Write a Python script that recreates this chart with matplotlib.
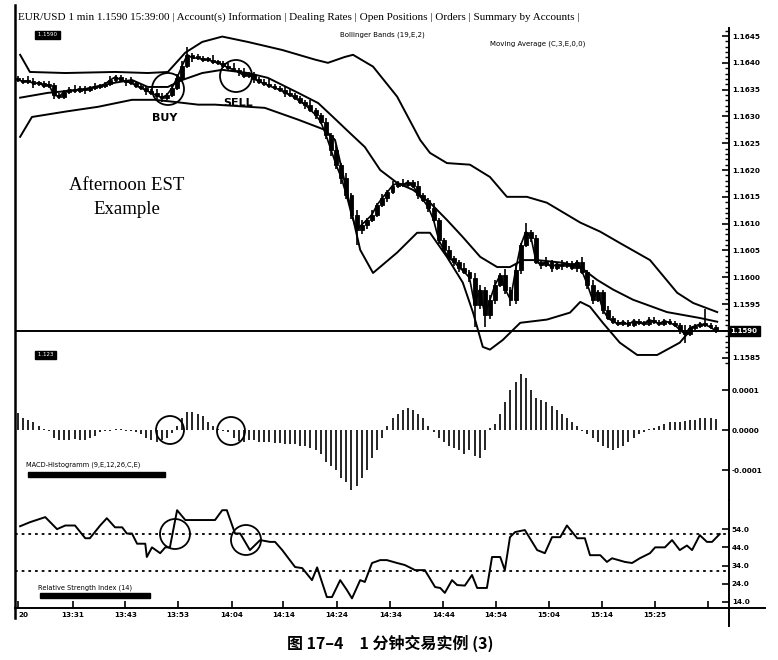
import numpy as np
import matplotlib.pyplot as plt
from matplotlib.patches import Rectangle, Ellipse
from matplotlib.lines import Line2D
from matplotlib.ticker import MultipleLocator

# ---- data ----
# 1-minute closes, 13:20 .. 15:39
closes = [
    1.16368, 1.16365, 1.16367, 1.16361, 1.16363, 1.16357, 1.16359, 1.16340, 1.16337, 1.16346,
    1.16350, 1.16348, 1.16352, 1.16350, 1.16353, 1.16355, 1.16357, 1.16361, 1.16368, 1.16374,
    1.16368, 1.16365, 1.16363, 1.16357, 1.16353, 1.16348, 1.16344, 1.16339, 1.16335, 1.16340,
    1.16353, 1.16372, 1.16395, 1.16415, 1.16409, 1.16409, 1.16406, 1.16406, 1.16402, 1.16400,
    1.16395, 1.16391, 1.16387, 1.16383, 1.16376, 1.16378, 1.16370, 1.16365, 1.16361, 1.16357,
    1.16353, 1.16350, 1.16344, 1.16340, 1.16335, 1.16327, 1.16322, 1.16312, 1.16303, 1.16290,
    1.16266, 1.16238, 1.16210, 1.16186, 1.16154, 1.16117, 1.16088, 1.16098, 1.16107, 1.16117,
    1.16135, 1.16148, 1.16159, 1.16171, 1.16176, 1.16172, 1.16178, 1.16171, 1.16154, 1.16144,
    1.16130, 1.16107, 1.16070, 1.16051, 1.16036, 1.16029, 1.16018, 1.16010, 1.15999, 1.15949,
    1.15977, 1.15930, 1.15958, 1.15986, 1.16004, 1.15977, 1.15958, 1.16014, 1.16060, 1.16085,
    1.16074, 1.16029, 1.16023, 1.16029, 1.16018, 1.16025, 1.16021, 1.16027, 1.16018, 1.16029,
    1.16010, 1.15986, 1.15958, 1.15973, 1.15939, 1.15924, 1.15917, 1.15913, 1.15917, 1.15911,
    1.15919, 1.15915, 1.15913, 1.15921, 1.15917, 1.15913, 1.15919, 1.15915, 1.15911, 1.15902,
    1.15894, 1.15906, 1.15909, 1.15913, 1.15911, 1.15907, 1.15900,
]
first_open = 1.16372

# wicks beyond the body, in pipettes (0.00001)
wick_hi = [
    4, 4, 8, 4, 4, 4, 8, 4, 4, 4,   4, 8, 4, 4, 4, 8, 4, 4, 8, 4,
    4, 4, 8, 4, 4, 4, 4, 8, 4, 4,   8, 8, 8, 14, 4, 8, 4, 4, 8, 4,
    4, 4, 8, 4, 8, 4, 4, 4, 4, 8,   4, 4, 4, 8, 4, 4, 4, 8, 4, 4,
    8, 4, 8, 4, 8, 4, 8, 8, 4, 8,   4, 8, 4, 8, 4, 8, 4, 4, 8, 4,
    4, 8, 4, 4, 8, 4, 4, 8, 4, 8,   8, 4, 8, 8, 4, 12, 4, 8, 4, 16,
    4, 4, 4, 8, 4, 4, 8, 4, 4, 4,   8, 4, 8, 4, 4, 8, 4, 4, 4, 4,
    4, 4, 4, 4, 4, 4, 4, 4, 4, 4,   8, 4, 4, 4, 28, 4, 4,
]
wick_lo = [
    4, 4, 4, 8, 4, 4, 4, 8, 4, 4,   4, 4, 4, 8, 4, 4, 4, 4, 4, 4,
    4, 8, 4, 4, 4, 8, 4, 8, 8, 4,   4, 4, 4, 4, 8, 4, 4, 4, 4, 4,
    4, 4, 4, 8, 4, 4, 8, 4, 4, 4,   4, 4, 8, 4, 4, 4, 8, 4, 8, 4,
    8, 12, 8, 12, 8, 8, 28, 8, 8, 4, 4, 4, 8, 4, 4, 4, 4, 4, 8, 4,
    8, 4, 8, 4, 4, 8, 8, 4, 8, 42,  8, 23, 8, 8, 4, 8, 12, 8, 8, 4,
    8, 4, 8, 4, 8, 4, 8, 4, 4, 8,   4, 8, 8, 4, 8, 4, 4, 4, 4, 4,
    4, 4, 4, 4, 4, 4, 4, 4, 4, 8,   16, 4, 4, 4, 4, 4, 4,
]

# Bollinger bands (19,E,2), sampled along the bar index
bb_upper_x = [0.4, 2.3, 9.2, 18.9, 25.3, 29.2, 32.6, 35.9, 39.8, 44.8, 51.5, 57.9, 60.4,
              63.7, 65.3, 69.2, 73.9, 78.4, 80.3, 83.6, 88.1, 92, 95.3, 99.2, 103.1,
              109.6, 113.5, 117.3, 123.2, 128.5, 131.6, 136.3]
bb_upper = [1.16415, 1.16383, 1.16381, 1.16383, 1.16381, 1.16383, 1.16419, 1.16439,
            1.16449, 1.16439, 1.16424, 1.16406, 1.16400, 1.16411, 1.16415, 1.16393,
            1.16337, 1.16256, 1.16232, 1.16213, 1.16210, 1.16187, 1.16150, 1.16150,
            1.16139, 1.16102, 1.16085, 1.16064, 1.16032, 1.15971, 1.15952, 1.15935]
bb_mid_x = [0.4, 5.8, 12.5, 18.9, 22.2, 25.3, 29.2, 32, 35.9, 39.8, 44.8, 48.7, 54.6,
            58.5, 61.4, 64.7, 67.6, 70.6, 73.9, 77, 80.3, 83.6, 86.7, 90.1, 93.4, 95.9,
            98.4, 101.2, 106.2, 109.6, 112.9, 116, 119.9, 126.5, 132.9, 136.3]
bb_mid = [1.16335, 1.16344, 1.16350, 1.16363, 1.16368, 1.16355, 1.16355, 1.16368,
          1.16381, 1.16387, 1.16381, 1.16372, 1.16344, 1.16325, 1.16299, 1.16269,
          1.16243, 1.16200, 1.16176, 1.16163, 1.16139, 1.16107, 1.16075, 1.16038,
          1.16019, 1.16019, 1.16032, 1.16032, 1.16027, 1.16019, 1.15995, 1.15977,
          1.15958, 1.15935, 1.15924, 1.15917]
bb_lower_x = [0.4, 2.7, 9.2, 15.6, 22.2, 26.7, 30.6, 35.1, 38.4, 48.1, 54.6, 59.8, 61.8,
              64.7, 66.7, 69.2, 73.9, 77.8, 80.3, 83.6, 86.7, 88.7, 90.6, 92, 94.5,
              97.9, 103.1, 107.6, 109.6, 111.5, 114, 117.3, 120.7, 124.6, 129, 131.6]
bb_lower = [1.16262, 1.16299, 1.16309, 1.16318, 1.16331, 1.16331, 1.16327, 1.16322,
            1.16322, 1.16316, 1.16294, 1.16275, 1.16256, 1.16135, 1.16051, 1.16008,
            1.16046, 1.16083, 1.16083, 1.16038, 1.15990, 1.15934, 1.15870, 1.15865,
            1.15883, 1.15915, 1.15921, 1.15934, 1.15954, 1.15945, 1.15915, 1.15878,
            1.15855, 1.15855, 1.15878, 1.15907]

# MACD histogram, units of 0.00001
macd_hist = [
    4.3, 3, 2.5, 2, 1, 0.3, -0.3, -2, -2.5, -2.5,
    -2.5, -2.2, -2.5, -2.5, -2, -1.5, -0.5, -0.3, -0.2, 0.3,
    0.3, -0.3, -0.2, -0.4, -1, -2, -2.5, -3, -2.5, -2,
    -0.8, 1, 3, 4.5, 4.5, 4, 3.5, 2, 1, 0.3,
    -0.3, -0.5, -2, -2.8, -3, -2.5, -2.5, -3, -3, -3,
    -3.3, -3.3, -3.5, -3.5, -3.5, -4, -4, -4.5, -5, -6,
    -8, -9, -10, -12, -13, -15, -14, -12, -10, -7,
    -5, -2, 1, 3, 4, 5, 5.5, 5, 4, 3,
    1, -0.5, -2, -3, -4, -4.5, -5, -6, -5, -6.5,
    -7, -5, 0.5, 1.5, 4, 7, 10, 12, 14, 13,
    10, 8, 7.5, 7, 6, 5, 4, 3, 2, 1,
    -0.3, -1, -2, -3, -4, -4.5, -5, -4.5, -4, -3,
    -2, -1, -0.5, 0.3, 0.5, 1, 1.5, 2, 2, 2,
    2.3, 2.5, 2.5, 3, 3, 3, 2.8,
]

# RSI (14)
rsi_x = [0.4, 2.3, 5.3, 7.6, 9.2, 11.1, 13.1, 14, 16, 17.3, 18.9, 20.3, 21.2, 22.2, 23.2,
         24.8, 25.1, 26.1, 27.7, 28.7, 29.6, 31, 32.6, 38.4, 39.8, 40.7, 42.3, 43.3,
         45.2, 47.2, 49.1, 50.1, 51.5, 54, 55.4, 57.3, 58.3, 60.2, 61.2, 62.8, 64.1,
         65.1, 66.7, 67.6, 69, 70.6, 71.9, 73.9, 75.4, 77.4, 79.3, 81.3, 82.3, 83.2,
         84.6, 85.6, 87.1, 88.5, 89.5, 91.4, 92.4, 94, 94.9, 95.9, 96.9, 98.8, 101.2,
         102.7, 104.1, 105.7, 107, 109, 110.5, 111.5, 113.5, 114.8, 115.8, 118.3,
         119.7, 121.2, 123.2, 124.2, 126.1, 127.5, 129, 130.4, 131.4, 132.9, 134.3,
         135.3, 136.8]
rsi = [55.6, 57.8, 60.6, 54, 56, 56, 49, 49, 56, 60, 55, 55, 51.6, 51.6, 46,
       46, 38.7, 44, 40.8, 44, 44, 64.4, 59, 59, 64.4, 64.4, 51.6, 51.6,
       42.5, 48, 47, 47, 42.5, 33.2, 32.6, 26, 33, 16.7, 16.7, 26, 20.6,
       16, 26, 25, 35.4, 37, 37, 35.4, 34.3, 31.5, 31.5, 22.2, 21.7, 19,
       26, 23.3, 23, 28.8, 21.7, 21.7, 38.7, 38.7, 31.5, 49.6, 52.4, 53.5, 42.5,
       40.8, 49.6, 49.6, 56, 49, 49, 39.7, 39.7, 36, 38, 36,
       35.4, 38, 40.8, 44, 44, 48, 42.5, 45, 42.5, 50.7, 47,
       47, 51.3]
rsi_levels = [51.3, 31.0]

time_ticks = [0, 10.7, 20.9, 31.2, 41.7, 51.7, 62.2, 72.6, 82.9, 93.2, 103.5, 113.8, 124.2, 134.5]
time_labels = ['20', '13:31', '13:43', '13:53', '14:04', '14:14', '14:24', '14:34',
               '14:44', '14:54', '15:04', '15:14', '15:25', '']
last_price = 1.1590

# ---- layout helpers (pixel -> figure fraction) ----
W, H = 778, 660
def fx(px): return px / W
def fy(py): return 1 - py / H

fig = plt.figure(figsize=(W / 100, H / 100), dpi=100)
fig.patch.set_facecolor('white')
L, R = 15, 729
XLIM = (-0.6, 138.6)

ax_p = fig.add_axes([fx(L), fy(363), fx(R) - fx(L), fy(28) - fy(363)])
ax_m = fig.add_axes([fx(L), fy(500), fx(R) - fx(L), fy(363) - fy(500)])
ax_r = fig.add_axes([fx(L), fy(608), fx(R) - fx(L), fy(500) - fy(608)])

for ax in (ax_p, ax_m, ax_r):
    ax.set_xlim(*XLIM)
    ax.patch.set_alpha(0)
    for s in ('top', 'left', 'bottom'):
        ax.spines[s].set_visible(False)
    ax.spines['right'].set_linewidth(1.4)
    ax.yaxis.tick_right()
    ax.tick_params(axis='y', direction='in', length=5, width=1.2, labelsize=5.2, pad=2)
    ax.tick_params(axis='x', bottom=False, labelbottom=False)

# ---- price panel ----
x = np.arange(len(closes))
c = np.array(closes)
o = np.r_[first_open, c[:-1]]
hi = np.maximum(o, c) + np.array(wick_hi) * 1e-5
lo = np.minimum(o, c) - np.array(wick_lo) * 1e-5

ax_p.vlines(x, lo, hi, color='black', lw=1.2)
for xi, oi, ci in zip(x, o, c):
    bottom = min(oi, ci)
    height = max(abs(ci - oi), 0.00003)
    ax_p.add_patch(Rectangle((xi - 0.38, bottom), 0.76, height, facecolor='black',
                             edgecolor='black', lw=0.6))
ax_p.plot(x, c, color='black', lw=1.2)
ax_p.plot(bb_upper_x, bb_upper, color='black', lw=1.4)
ax_p.plot(bb_mid_x, bb_mid, color='black', lw=1.4)
ax_p.plot(bb_lower_x, bb_lower, color='black', lw=1.4)
ax_p.axhline(last_price, color='black', lw=1.4)

ax_p.set_ylim(1.15840, 1.16465)
price_ticks = np.arange(1.1585, 1.16451, 0.0005)
ax_p.set_yticks(price_ticks)
# the tick at the last price carries the black price box instead of a label
ax_p.set_yticklabels(['' if abs(v - last_price) < 1e-7 else '%.4f' % v for v in price_ticks],
                     fontweight='bold')
ax_p.yaxis.set_minor_locator(MultipleLocator(0.0001))
ax_p.tick_params(axis='y', which='minor', direction='in', length=3, width=1)

# ---- MACD panel ----
ax_m.vlines(x, 0, np.array(macd_hist) * 1e-5, color='black', lw=1.2)
ax_m.set_ylim(-0.000175, 0.0001675)
ax_m.set_yticks([-0.0001, 0.0, 0.0001])
ax_m.set_yticklabels(['-0.0001', '0.0000', '0.0001'], fontweight='bold')

# ---- RSI panel ----
ax_r.plot(rsi_x, rsi, color='black', lw=1.4)
for lev in rsi_levels:
    ax_r.axhline(lev, color='black', lw=1.3, ls=(0, (1.5, 2.2)))
ax_r.set_ylim(10.7, 70)
ax_r.set_yticks([14, 24, 34, 44, 54])
ax_r.set_yticklabels(['14.0', '24.0', '34.0', '44.0', '54.0'], fontweight='bold')
ax_r.spines['bottom'].set_visible(True)
ax_r.spines['bottom'].set_linewidth(1.4)
ax_r.set_xticks(time_ticks)
ax_r.set_xticklabels(time_labels, fontweight='bold')
ax_r.tick_params(axis='x', bottom=True, labelbottom=True, direction='in', length=5,
                 width=1.2, labelsize=5.2, pad=3)
ax_r.get_xticklabels()[0].set_ha('left')

# ---- frame lines outside the axes ----
fig.add_artist(Line2D([fx(15), fx(15)], [fy(5), fy(618)], color='black', lw=1.8))
fig.add_artist(Line2D([fx(R), fx(R)], [fy(608), fy(626)], color='black', lw=1.4))
fig.add_artist(Line2D([fx(R), fx(765)], [fy(608), fy(608)], color='black', lw=1.4))

# ---- texts ----
fig.text(fx(18), fy(17), 'EUR/USD 1 min 1.1590 15:39:00 | Account(s) Information | Dealing Rates '
         '| Open Positions | Orders | Summary by Accounts |',
         family='Liberation Serif', fontsize=8, va='center', ha='left')
fig.text(fx(36), fy(35), ' 1.1590 ', color='white', fontsize=4, va='center', ha='left',
         bbox=dict(facecolor='black', edgecolor='black', pad=0.8))
fig.text(fx(36), fy(355), ' 1.123 ', color='white', fontsize=4, va='center', ha='left',
         bbox=dict(facecolor='black', edgecolor='black', pad=0.8))
fig.text(fx(340), fy(35), 'Bollinger Bands (19,E,2)', fontsize=5, va='center', ha='left')
fig.text(fx(490), fy(44), 'Moving Average (C,3,E,0,0)', fontsize=5, va='center', ha='left')
fig.text(fx(744), fy(331), '1.1590', color='white', fontsize=5, va='center', ha='center',
         fontweight='bold', bbox=dict(facecolor='black', edgecolor='black', pad=1.5))

fig.text(fx(127), fy(185), 'Afternoon EST', family='Liberation Serif', fontsize=13.5,
         ha='center', va='center')
fig.text(fx(127), fy(210), 'Example', family='Liberation Serif', fontsize=13.5,
         ha='center', va='center')
fig.text(fx(165), fy(118), 'BUY', fontsize=8, fontweight='bold', ha='center', va='center')
fig.text(fx(238), fy(103), 'SELL', fontsize=8, fontweight='bold', ha='center', va='center')

fig.text(fx(26), fy(465), 'MACD-Histogramm (9,E,12,26,C,E)', fontsize=4.8, va='center', ha='left')
fig.add_artist(Rectangle((fx(28), fy(477)), fx(165) - fx(28), fy(472) - fy(477),
                         transform=fig.transFigure, color='black'))
fig.text(fx(38), fy(588), 'Relative Strength Index (14)', fontsize=4.8, va='center', ha='left')
fig.add_artist(Rectangle((fx(40), fy(598)), fx(150) - fx(40), fy(593) - fy(598),
                         transform=fig.transFigure, color='black'))

# circles marking the entry and exit
for cx, cy, r in [(168, 89, 16), (236, 76, 16), (170, 430, 14), (231, 431, 14),
                  (175, 534, 15), (246, 540, 15)]:
    fig.add_artist(Ellipse((fx(cx), fy(cy)), 2 * r / W, 2 * r / H,
                           transform=fig.transFigure, fill=False, lw=1.3, color='black'))

fig.text(fx(390), fy(643), '图 17–4　1 分钟交易实例 (3)',
         family=['Noto Sans CJK SC', 'DejaVu Sans'], fontweight='bold', fontsize=11.5,
         ha='center', va='center')

fig.savefig('out.png', dpi=100)
